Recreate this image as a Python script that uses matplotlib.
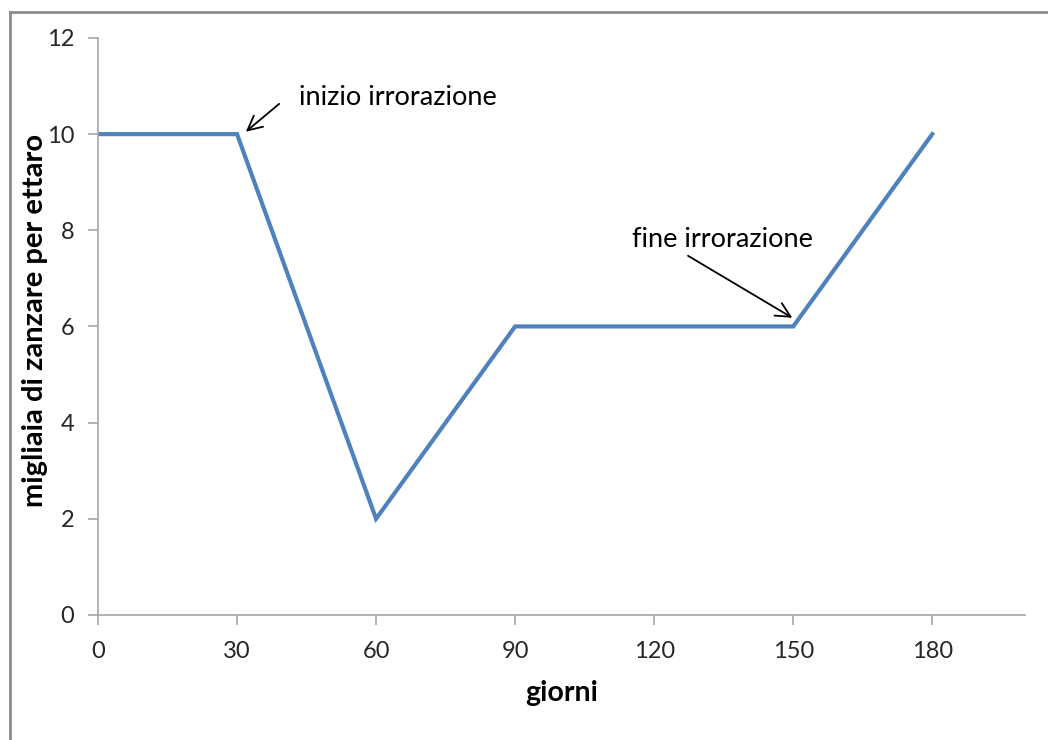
import matplotlib.pyplot as plt
from matplotlib.lines import Line2D

giorni = [0, 30, 60, 90, 150, 180]
zanzare = [10, 10, 2, 6, 6, 10]
x_ticks = [0, 30, 60, 90, 120, 150, 180]
y_ticks = [0, 2, 4, 6, 8, 10, 12]

plt.rcParams['font.family'] = ['Lato', 'DejaVu Sans']
grey = '#a6a6a6'

fig = plt.figure(figsize=(10.48, 7.40), dpi=100)
ax = fig.add_axes([0.0935, 0.169, 0.8845, 0.7797])

ax.plot(giorni, zanzare, color='#4f81bd', linewidth=3.0, solid_joinstyle='miter')

ax.set_xlim(0, 200)
ax.set_ylim(0, 12)
ax.set_xticks(x_ticks)
ax.set_yticks(y_ticks)
for s in ['top', 'right']:
    ax.spines[s].set_visible(False)
for s in ['left', 'bottom']:
    ax.spines[s].set_color(grey)
    ax.spines[s].set_linewidth(1.2)
ax.tick_params(axis='both', colors=grey, length=7, width=1.2, direction='out',
               labelcolor='#262626', labelsize=17)
ax.tick_params(axis='x', pad=12)
ax.tick_params(axis='y', pad=10)

ax.set_xlabel('giorni', fontsize=20.5, fontweight='bold', va='center')
ax.set_ylabel('migliaia di zanzare per ettaro', fontsize=21, fontweight='bold', va='center')
ax.xaxis.set_label_coords(0.5, -0.135)
ax.yaxis.set_label_coords(-0.068, 0.51)

arrow = dict(arrowstyle='->', color='black', lw=1.3, shrinkA=0, shrinkB=0,
             mutation_scale=26)
ax.text(43.4, 10.77, 'inizio irrorazione', fontsize=19.5, ha='left', va='center')
ax.annotate('', xy=(31.9, 10.05), xytext=(39.1, 10.63), arrowprops=arrow)
ax.text(115.3, 7.8, 'fine irrorazione', fontsize=19.5, ha='left', va='center')
ax.annotate('', xy=(149.8, 6.18), xytext=(127.3, 7.47), arrowprops=arrow)

fig.add_artist(Line2D([0.0095, 0.0095], [0, 0.984], transform=fig.transFigure,
                      color='#8c8c8c', lw=2))
fig.add_artist(Line2D([0.0095, 1], [0.984, 0.984], transform=fig.transFigure,
                      color='#8c8c8c', lw=2))

fig.savefig('out.png', dpi=100)
